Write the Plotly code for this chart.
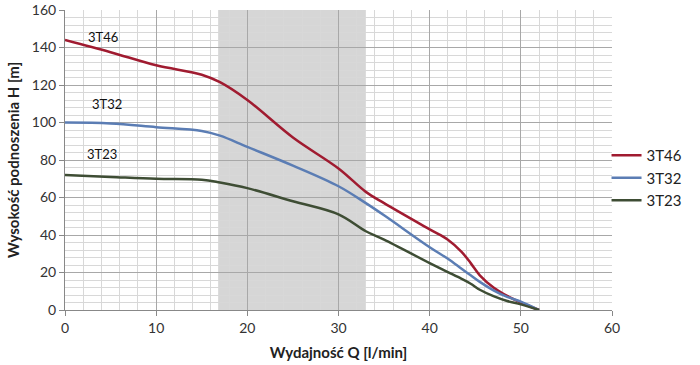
import plotly.graph_objects as go

q = [0, 5, 10, 15, 17, 20, 25, 30, 33, 35, 40, 42, 43.5, 44.5, 45.5, 47, 48.5, 50, 52]
h_3t46 = [144, 137.5, 130.5, 125.5, 121.5, 112, 92, 75.5, 63, 57, 43, 37.5, 31, 25, 18.5, 12, 7.5, 4, 0]
h_3t32 = [100, 99.5, 97.5, 95.5, 93, 87, 77, 66, 57, 50.5, 33.5, 27.3, 22, 18.5, 15, 10.5, 7, 4.5, 0]
h_3t23 = [72, 71, 70, 69.5, 68, 65, 58, 51, 42, 37.5, 25, 20.2, 16.6, 14, 10.8, 7.4, 4.8, 3, 0]

series = [("3T46", h_3t46, "#a01b30"), ("3T32", h_3t32, "#5b7db4"), ("3T23", h_3t23, "#3e4d34")]
labels = [("3T46", 4.2, 145.5), ("3T32", 4.6, 110), ("3T23", 4.1, 83)]
shade_range = [16.8, 33.0]

fig = go.Figure()
for name, h, col in series:
    fig.add_trace(go.Scatter(x=q, y=h, name=name, mode="lines",
                             line=dict(color=col, width=2.5, shape="spline", smoothing=1.0)))

fig.add_shape(type="rect", xref="x", yref="y", x0=shade_range[0], x1=shade_range[1], y0=0, y1=160,
              fillcolor="#d6d6d6", line_width=0, layer="below")

for txt, x, y in labels:
    fig.add_annotation(x=x, y=y, text=txt, showarrow=False, xanchor="center", yanchor="middle",
                       font=dict(size=13, color="#111", family="Lato"))

fig.update_layout(
    width=700, height=365,
    margin=dict(l=65, r=88, t=10, b=55),
    paper_bgcolor="white", plot_bgcolor="white",
    font=dict(family="Lato", size=14, color="#333"),
    legend=dict(x=0.99, y=0.44, xanchor="left", yanchor="middle", font=dict(size=15, color="#222"),
                tracegroupgap=0, itemwidth=30, bgcolor="rgba(0,0,0,0)"),
    xaxis=dict(range=[0, 60], dtick=10, showgrid=True, gridcolor="#a8a8a8", gridwidth=1,
               minor=dict(dtick=2, showgrid=True, gridcolor="#d8d8d8"),
               showline=True, linecolor="#888", ticks="outside", ticklen=5, tickcolor="#888",
               zeroline=False, automargin=False,
               title=dict(text="<b>Wydajność Q [l/min]</b>", font=dict(size=15, color="#222"), standoff=12)),
    yaxis=dict(range=[0, 160], dtick=20, showgrid=True, gridcolor="#a8a8a8", gridwidth=1,
               minor=dict(dtick=4, showgrid=True, gridcolor="#d8d8d8"),
               showline=True, linecolor="#888", ticks="outside", ticklen=5, tickcolor="#888",
               zeroline=False, automargin=False,
               title=dict(text="<b>Wysokość podnoszenia H [m]</b>", font=dict(size=15, color="#222"), standoff=8)),
)

fig.write_html("out.html", config={"displayModeBar": False},
               post_script="document.body.style.margin='0';")
